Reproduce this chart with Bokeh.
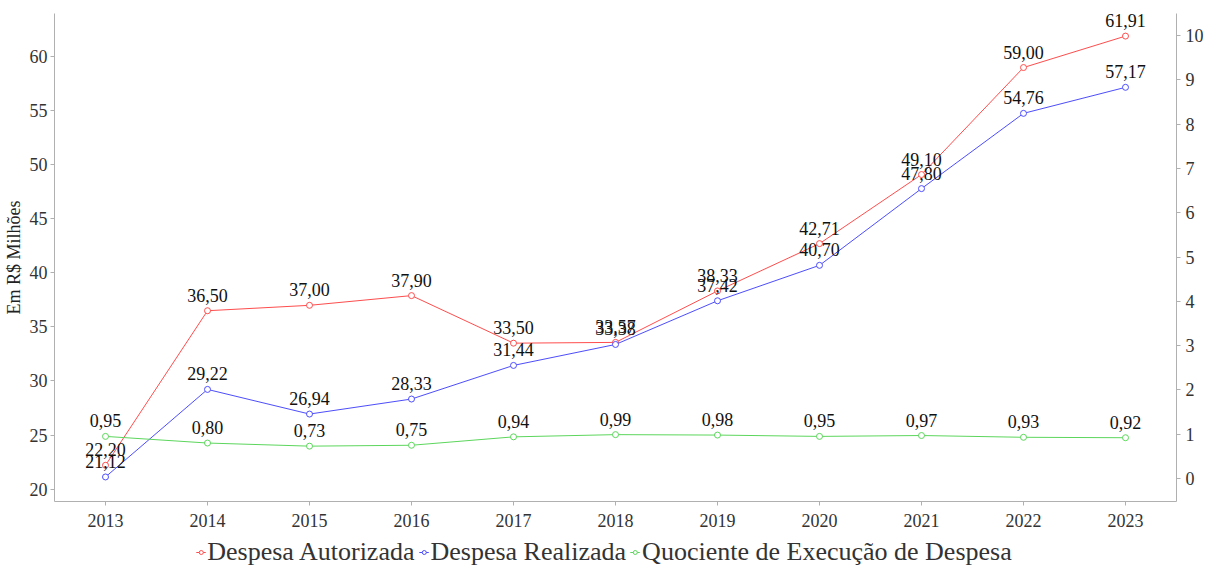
from bokeh.plotting import figure
from bokeh.layouts import column
from bokeh.models import Range1d, LinearAxis, FixedTicker, Legend, LegendItem, ColumnDataSource
from bokeh.core.properties import value
from bokeh.embed import file_html
from bokeh.resources import INLINE

years = [2013, 2014, 2015, 2016, 2017, 2018, 2019, 2020, 2021, 2022, 2023]
autorizada = [22.20, 36.50, 37.00, 37.90, 33.50, 33.57, 38.33, 42.71, 49.10, 59.00, 61.91]
realizada = [21.12, 29.22, 26.94, 28.33, 31.44, 33.38, 37.42, 40.70, 47.80, 54.76, 57.17]
quociente = [0.95, 0.80, 0.73, 0.75, 0.94, 0.99, 0.98, 0.95, 0.97, 0.93, 0.92]
left_ticks = [20, 25, 30, 35, 40, 45, 50, 55, 60]
right_ticks = [0, 1, 2, 3, 4, 5, 6, 7, 8, 9, 10]
series_names = ["Despesa Autorizada", "Despesa Realizada", "Quociente de Execução de Despesa"]

FONT = "Liberation Serif"
RED = "#ff4d4d"
BLUE = "#4d4dff"
GREEN = "#5cd65c"
AXIS = "#b0b0b0"
COLORS = [RED, BLUE, GREEN]

def fmt(v):
    return f"{v:.2f}".replace(".", ",")

p = figure(frame_width=1122, frame_height=488, output_backend="svg", toolbar_location=None,
           x_range=Range1d(2012.5, 2023.5), y_range=Range1d(18.85, 64.0),
           min_border_left=0, min_border_right=0, min_border_top=13, min_border_bottom=35)
p.extra_y_ranges = {"q": Range1d(-0.52, 10.5)}
p.outline_line_color = None
p.xgrid.grid_line_color = None
p.ygrid.grid_line_color = None

def style_axis(ax):
    ax.axis_line_color = AXIS
    ax.major_tick_line_color = AXIS
    ax.minor_tick_line_color = None
    ax.major_tick_out = 4
    ax.major_tick_in = 0
    ax.major_label_text_font = FONT
    ax.major_label_text_font_size = "18px"
    ax.major_label_text_color = "#333333"
    ax.axis_label_text_font = FONT
    ax.axis_label_text_font_style = "normal"
    ax.axis_label_text_font_size = "18px"
    ax.axis_label_text_color = "#222222"

p.xaxis.ticker = FixedTicker(ticks=years)
p.yaxis.ticker = FixedTicker(ticks=left_ticks)
p.yaxis.axis_label = "Em R$ Milhões"
style_axis(p.xaxis[0])
style_axis(p.yaxis[0])
p.yaxis[0].axis_label_standoff = 3
p.yaxis[0].major_label_standoff = 3
p.xaxis[0].major_label_standoff = 8

raxis = LinearAxis(y_range_name="q", ticker=FixedTicker(ticks=right_ticks))
style_axis(raxis)
p.add_layout(raxis, "right")

src = ColumnDataSource(dict(
    x=years, a=autorizada, r=realizada, q=quociente,
    at=[fmt(v) for v in autorizada], rt=[fmt(v) for v in realizada], qt=[fmt(v) for v in quociente],
))

p.line("x", "a", source=src, line_color=RED, line_width=1)
p.scatter("x", "a", source=src, size=6, fill_color="white", line_color=RED)
p.line("x", "r", source=src, line_color=BLUE, line_width=1)
p.scatter("x", "r", source=src, size=6, fill_color="white", line_color=BLUE)
p.line("x", "q", source=src, line_color=GREEN, line_width=1, y_range_name="q")
p.scatter("x", "q", source=src, size=6, fill_color="white", line_color=GREEN, y_range_name="q")

for col, tcol, rng in [("a", "at", "default"), ("r", "rt", "default"), ("q", "qt", "q")]:
    kw = {} if rng == "default" else {"y_range_name": rng}
    p.text("x", col, text=tcol, source=src, text_align="center", text_baseline="bottom",
           y_offset=-9, text_font=value(FONT), text_font_size="18px", text_color="#111111", **kw)

# legend strip (separate figure below the chart); its renderers reuse the series data,
# which falls outside this strip's ranges so only the legend is visible
lf = figure(frame_width=1207, frame_height=32, output_backend="svg", toolbar_location=None,
            x_axis_type=None, y_axis_type=None, min_border=0,
            x_range=Range1d(0, 1), y_range=Range1d(0, 1))
lf.outline_line_color = None
items = []
for name, c, col in zip(series_names, COLORS, ["a", "r", "q"]):
    l = lf.line("x", col, source=src, line_color=c, line_width=1)
    s = lf.scatter("x", col, source=src, size=6, fill_color="white", line_color=c)
    items.append(LegendItem(label=name, renderers=[l, s]))

legend = Legend(items=items, orientation="horizontal", location="center")
legend.label_text_font = FONT
legend.label_text_font_size = "26px"
legend.label_text_color = "#333333"
legend.glyph_width = 10
legend.glyph_height = 10
legend.label_standoff = 2
legend.spacing = 4
legend.padding = 0
legend.margin = 0
legend.border_line_color = None
legend.background_fill_alpha = 0
lf.add_layout(legend, "center")

layout = column(p, lf, spacing=0)
open("out.html", "w").write(file_html(layout, INLINE))
